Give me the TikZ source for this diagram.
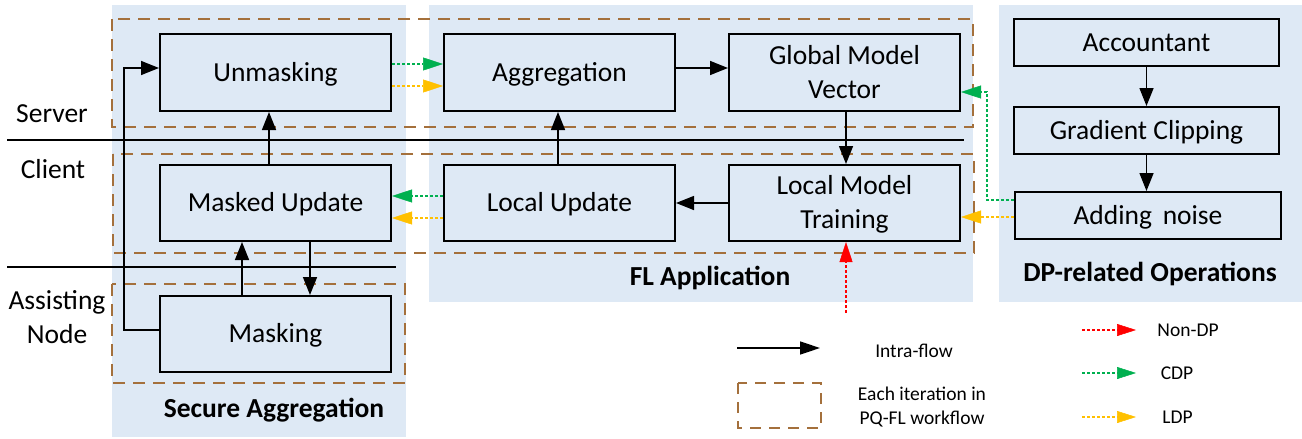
\documentclass[tikz,border=0pt]{standalone}
\usepackage{fontspec}
\setmainfont{Carlito}
\usetikzlibrary{arrows.meta,calc}
\definecolor{bgblue}{RGB}{222,233,245}
\definecolor{brownd}{RGB}{164,112,60}
\definecolor{cdpg}{RGB}{0,176,80}
\definecolor{ldpo}{RGB}{255,192,0}
\definecolor{nondpr}{RGB}{255,0,0}
\begin{document}
\begin{tikzpicture}[x=1pt,y=-1pt,
  bigfont/.style={font=\fontsize{27.5}{34}\selectfont},
  box/.style={draw,line width=2pt,minimum width=231pt,minimum height=76pt,inner sep=0pt,align=center,bigfont,text height=20.6pt,text depth=3pt},
  twoline/.style={text height=54.6pt,text depth=3pt},
  dbox/.style={draw,line width=2pt,minimum width=265pt,minimum height=47pt,inner sep=0pt,align=center,bigfont,text height=20.6pt,text depth=3pt},
  flow/.style={line width=1.5pt,-{Triangle[length=18pt,width=14pt]}},
  cdp/.style={draw=cdpg,line width=2pt,dash pattern=on 3pt off 2pt,-{Triangle[length=20pt,width=13pt,line width=0.5pt]}},
  ldp/.style={draw=ldpo,line width=2pt,dash pattern=on 3pt off 2pt,-{Triangle[length=20pt,width=13pt,line width=0.5pt]}},
  ndp/.style={draw=nondpr,line width=2pt,dash pattern=on 3pt off 2pt,-{Triangle[length=20pt,width=13pt,line width=0.5pt]}},
  iter/.style={draw=brownd,line width=2pt,dash pattern=on 12pt off 8pt},
  sep/.style={line width=1.5pt},
  lbl/.style={bigfont,align=center},
  ttl/.style={font=\bfseries\fontsize{27.5}{34}\selectfont},
  leg/.style={font=\fontsize{19.5}{24}\selectfont,align=center}]
\useasboundingbox (0,0) rectangle (1302,439);
% backgrounds
\fill[bgblue] (112,5) rectangle (406,437);
\fill[bgblue] (429,5) rectangle (973,302);
\fill[bgblue] (999,5) rectangle (1302,302);
% iteration frames
\draw[iter] (112,19) rectangle (973,127);
\draw[iter] (113,154) rectangle (974,253);
\draw[iter] (112,284) rectangle (405,383);
% separators
\draw[sep] (7,140) -- (964,140);
\draw[sep] (7,267) -- (396,267);
% role labels
\node[lbl] (server) at (52,114) {Server};
\node[lbl] (client) at (53,169) {Client};
\node[lbl] (assist) at (57,317) {Assisting\\Node};
% boxes
\node[box,minimum height=77pt] (unmask) at (275.5,72.5) {Unmasking};
\node[box] (masked) at (275.5,203) {Masked Update};
\node[box] (masking) at (275.5,334) {Masking};
\node[box,minimum height=77pt] (agg) at (559.5,72.5) {Aggregation};
\node[box,twoline,minimum height=77pt] (gmv) at (844.5,72.5) {Global Model\\Vector};
\node[box] (locup) at (559.5,203) {Local Update};
\node[box,twoline] (lmt) at (844.5,203) {Local Model\\Training};
\node[dbox] (acc) at (1146.5,42.5) {Accountant};
\node[dbox] (gc) at (1146.5,130.5) {Gradient Clipping};
\node[dbox,minimum width=266pt] (noise) at (1148,215.5) {Adding\, noise};
% titles
\node[ttl] (tsa) at (274,410) {Secure Aggregation};
\node[ttl] (tfl) at (710,278) {FL Application};
\node[ttl] (tdp) at (1150,274) {DP-related Operations};
% flows
\draw[cdp] ([yshift=8.5pt]unmask.east) -- ([yshift=8.5pt]agg.west);
\draw[ldp] ([yshift=-13.5pt]unmask.east) -- ([yshift=-13.5pt]agg.west);
\draw[cdp] ([yshift=7pt]locup.west) -- ([yshift=7pt]masked.east);
\draw[ldp] ([yshift=-15pt]locup.west) -- ([yshift=-15pt]masked.east);
\draw[flow] ([yshift=4.5pt]agg.east) -- ([yshift=4.5pt]gmv.west);
\draw[flow] ([xshift=1.5pt]gmv.south) -- ([xshift=1.5pt]lmt.north);
\draw[flow] (lmt.west) -- (locup.east);
\draw[flow] ([xshift=-1.5pt]locup.north) -- ([xshift=-1.5pt]agg.south);
\draw[flow] ([xshift=-6.5pt]masked.north) -- ([xshift=-6.5pt]unmask.south);
\draw[flow] ([xshift=-33.5pt]masking.north) -- ([xshift=-33.5pt]masked.south);
\draw[flow] ([xshift=34.5pt]masked.south) -- ([xshift=34.5pt]masking.north);
\draw[flow] ([yshift=4pt]masking.west) -- ++(-35,0) |- ([yshift=4.5pt]unmask.west);
\draw[flow] (acc.south) -- (gc.north);
\draw[flow] (gc.south) -- (gc.south |- noise.north);
\draw[cdp] ([yshift=15.5pt]noise.west) -- ++(-27,0) |- ([yshift=-19.5pt]gmv.east);
\draw[ldp] ([yshift=-1.5pt]noise.west) -- ([yshift=-14pt]lmt.east);
\coordinate (ndpsrc) at (846,313);
\draw[ndp] (ndpsrc) -- (ndpsrc |- lmt.south);
% legend
\coordinate (la) at (737,348);
\coordinate (lb) at (820,348);
\draw[flow,-{Triangle[length=20pt,width=13pt]}] (la) -- (lb);
\node[leg] (lintra) at (914,351) {Intra-flow};
\draw[iter,dash pattern=on 11pt off 8pt] (738,383) rectangle (821,428);
\node[leg] (liter) at (922,407) {Each iteration in\\PQ-FL workflow};
\coordinate (na) at (1082,330);
\coordinate (nb) at (1136,330);
\draw[ndp,-{Triangle[length=19pt,width=12pt,line width=0.5pt]}] (na) -- (nb);
\node[leg] (lndp) at (1188,330) {Non-DP};
\coordinate (ca) at (1082,373);
\coordinate (cb) at (1136,373);
\draw[cdp,-{Triangle[length=19pt,width=12pt,line width=0.5pt]}] (ca) -- (cb);
\node[leg] (lcdp) at (1177,373) {CDP};
\coordinate (oa) at (1082,417);
\coordinate (ob) at (1136,417);
\draw[ldp,-{Triangle[length=19pt,width=12pt,line width=0.5pt]}] (oa) -- (ob);
\node[leg] (lldp) at (1177.5,417) {LDP};
\end{tikzpicture}
\end{document}
